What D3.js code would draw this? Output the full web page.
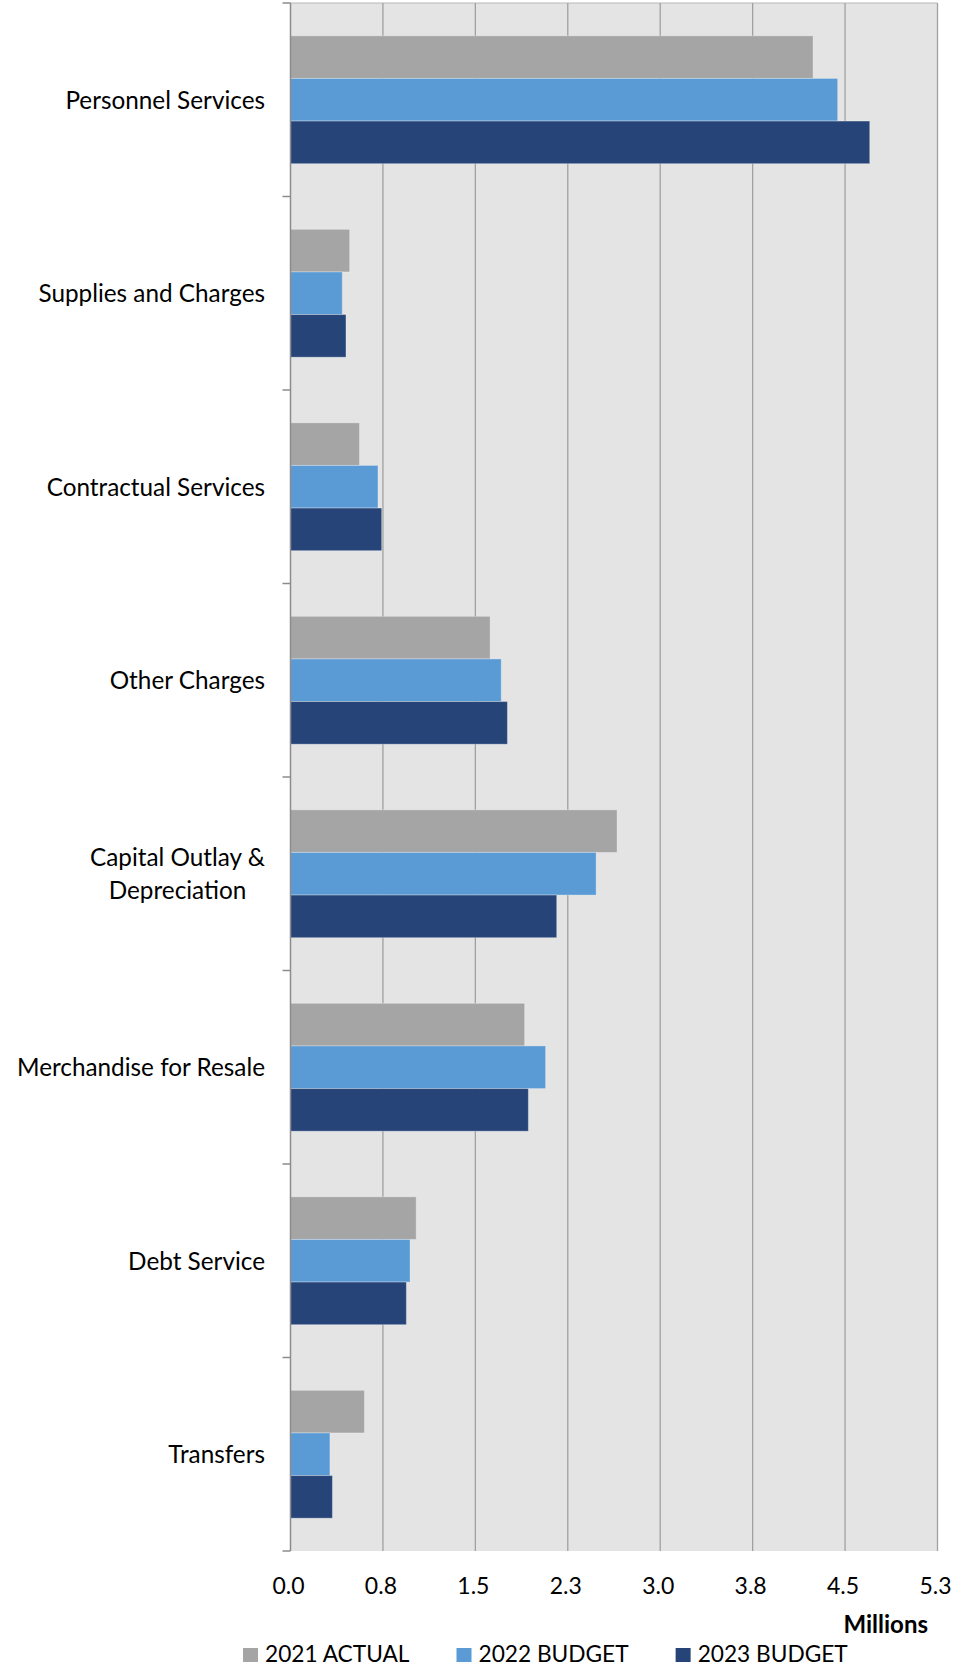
<!DOCTYPE html>
<html>
<head>
<meta charset="utf-8">
<script src="https://cdn.jsdelivr.net/npm/d3@7"></script>
<style>
  html, body { margin: 0; padding: 0; background: #fff; }
  svg text { font-family: Lato, "Open Sans", sans-serif; fill: #000; }
</style>
</head>
<body>
<div id="chart"></div>
<script>
// data (millions)
const categories = [
  "Personnel Services",
  "Supplies and Charges",
  "Contractual Services",
  "Other Charges",
  "Capital Outlay &\nDepreciation",
  "Merchandise for Resale",
  "Debt Service",
  "Transfers"
];
const seriesNames = ["2021 ACTUAL", "2022 BUDGET", "2023 BUDGET"];
const actual2021 = [4.24, 0.48, 0.56, 1.62, 2.65, 1.90, 1.02, 0.60];
const budget2022 = [4.44, 0.42, 0.71, 1.71, 2.48, 2.07, 0.97, 0.32];
const budget2023 = [4.70, 0.45, 0.74, 1.76, 2.16, 1.93, 0.94, 0.34];
const tickValues = [0, 0.75, 1.5, 2.25, 3.0, 3.75, 4.5, 5.25];
const tickLabels = ["0.0", "0.8", "1.5", "2.3", "3.0", "3.8", "4.5", "5.3"];
const colors = ["#a5a5a5", "#5b9bd5", "#264478"];

const W = 953, H = 1669;
const plot = { left: 290.5, right: 937.5, top: 3, bottom: 1551 };

const svg = d3.select("#chart").append("svg")
    .attr("width", W)
    .attr("height", H);

const x = d3.scaleLinear().domain([0, 5.25]).range([plot.left, plot.right]);
const y = d3.scaleBand().domain(categories).range([plot.top, plot.bottom]).padding(0);
const ySeries = d3.scaleBand().domain(seriesNames).range([0, y.bandwidth()])
    .paddingInner(0).paddingOuter(0.77);

// plot background
svg.append("rect")
    .attr("x", plot.left)
    .attr("y", plot.top)
    .attr("width", plot.right - plot.left)
    .attr("height", plot.bottom - plot.top)
    .attr("fill", "#e4e4e4");

svg.append("line")
    .attr("x1", plot.left).attr("x2", plot.right)
    .attr("y1", plot.top).attr("y2", plot.top)
    .attr("stroke", "#b8b8b8").attr("stroke-width", 1);

// vertical gridlines
svg.append("g")
    .selectAll("line")
    .data(tickValues.slice(1))
    .join("line")
    .attr("x1", d => x(d)).attr("x2", d => x(d))
    .attr("y1", plot.top).attr("y2", plot.bottom)
    .attr("stroke", "#a0a0a0")
    .attr("stroke-width", 1.3);

// bars
const rows = categories.map((c, i) => ({
    cat: c,
    vals: [actual2021[i], budget2022[i], budget2023[i]]
}));

const groups = svg.append("g")
    .selectAll("g")
    .data(rows)
    .join("g")
    .attr("transform", d => `translate(0,${y(d.cat)})`);

groups.selectAll("rect")
    .data(d => d.vals.map((v, j) => ({ name: seriesNames[j], v: v, j: j })))
    .join("rect")
    .attr("x", x(0))
    .attr("y", d => ySeries(d.name))
    .attr("width", d => x(d.v) - x(0))
    .attr("height", ySeries.bandwidth())
    .attr("fill", d => colors[d.j])
    .attr("stroke", "rgba(255,255,255,0.3)")
    .attr("stroke-width", 1);

// left axis with tick marks at category boundaries
const yAxisG = svg.append("g");
yAxisG.append("line")
    .attr("x1", plot.left).attr("x2", plot.left)
    .attr("y1", plot.top).attr("y2", plot.bottom)
    .attr("stroke", "#8c8c8c").attr("stroke-width", 1.5);

const boundaries = categories.map(c => y(c)).concat([plot.bottom]);
yAxisG.selectAll(".tick")
    .data(boundaries)
    .join("line")
    .attr("class", "tick")
    .attr("x1", plot.left - 8).attr("x2", plot.left)
    .attr("y1", d => d).attr("y2", d => d)
    .attr("stroke", "#8c8c8c").attr("stroke-width", 1.5);

// category labels
const labelRight = 265;
categories.forEach(c => {
    const lines = c.split("\n");
    const cy = y(c) + y.bandwidth() / 2;
    const t = svg.append("text")
        .style("font-size", "24.3px")
        .attr("text-anchor", lines.length > 1 ? "middle" : "end");
    if (lines.length === 1) {
        t.attr("x", labelRight).attr("y", cy + 9).text(c);
    } else {
        const lh = 33;
        const spans = lines.map((l, k) => t.append("tspan")
            .attr("y", cy + 9 + (k - (lines.length - 1) / 2) * lh)
            .text(l));
        const maxW = d3.max(spans, s => s.node().getComputedTextLength());
        spans.forEach(s => s.attr("x", labelRight - maxW / 2));
    }
});

// x tick labels
svg.append("g")
    .selectAll("text")
    .data(tickValues)
    .join("text")
    .attr("x", d => x(d) - 2)
    .attr("y", 1594)
    .attr("text-anchor", "middle")
    .style("font-size", "23px")
    .text((d, i) => tickLabels[i]);

svg.append("text")
    .attr("x", 928)
    .attr("y", 1633)
    .attr("text-anchor", "end")
    .style("font-size", "24px")
    .style("font-weight", "bold")
    .text("Millions");

// legend
let lx = 243;
seriesNames.forEach((s, i) => {
    svg.append("rect")
        .attr("x", lx).attr("y", 1648)
        .attr("width", 15).attr("height", 14)
        .attr("fill", colors[i]);
    const t = svg.append("text")
        .attr("x", lx + 22)
        .attr("y", 1662)
        .style("font-size", "22.7px")
        .text(s);
    lx = lx + 22 + t.node().getComputedTextLength() + 47;
});
</script>
</body>
</html>
